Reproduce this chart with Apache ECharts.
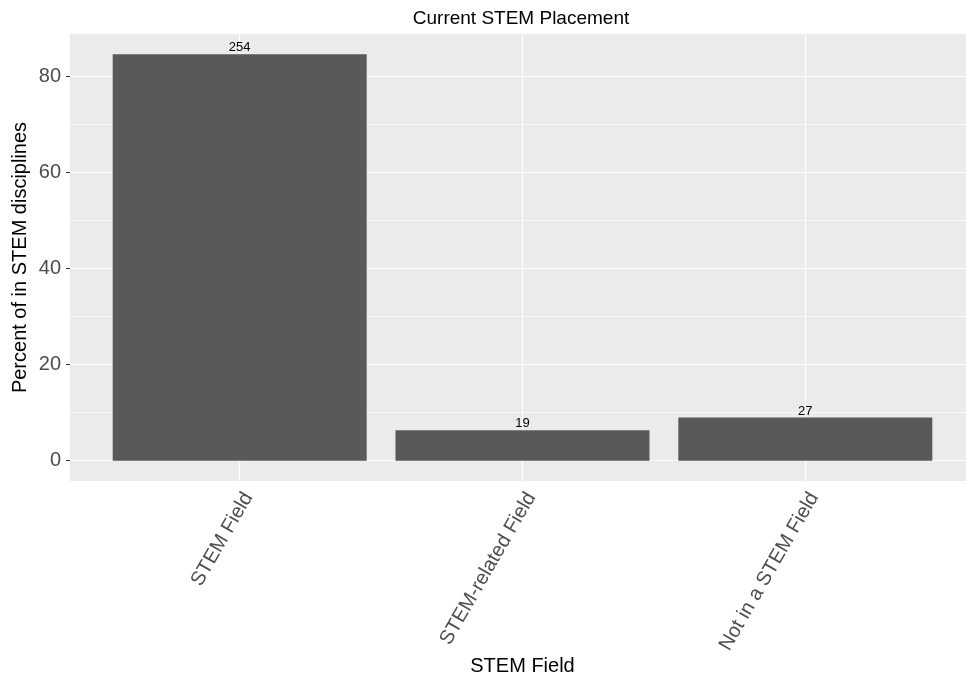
<!DOCTYPE html>
<html>
<head>
<meta charset="utf-8">
<script src="https://cdn.jsdelivr.net/npm/echarts@6/dist/echarts.min.js"></script>
<style>html,body{margin:0;padding:0;background:#fff}#c{width:966px;height:678px}</style>
</head>
<body>
<div id="c"></div>
<script>
const categories = ["STEM Field", "STEM-related Field", "Not in a STEM Field"];
const counts = [254, 19, 27];
const percents = [84.667, 6.333, 9.0];
const yTicks = [0, 20, 40, 60, 80];
const yMinor = [10, 30, 50, 70];
const xPositions = [1, 2, 3];

const font = "Liberation Sans, Arial, sans-serif";
const chart = echarts.init(document.getElementById('c'), null, {renderer: 'canvas'});

const barData = xPositions.map((x, i) => [x, percents[i]]);

chart.setOption({
  animation: false,
  backgroundColor: '#ffffff',
  title: {
    text: 'Current STEM Placement',
    left: 516, top: 4, textAlign: 'center',
    textStyle: {fontFamily: font, fontSize: 19, fontWeight: 'normal', color: '#000'}
  },
  grid: {
    left: 70, top: 34, width: 905, height: 447,
    outerBoundsMode: 'none', containLabel: false,
    show: true, backgroundColor: '#EBEBEB', borderWidth: 0
  },
  xAxis: {
    type: 'value', min: 0.4, max: 3.6,
    name: 'STEM Field', nameLocation: 'middle', nameGap: 175, nameMoveOverlap: false,
    nameTextStyle: {fontFamily: font, fontSize: 20, color: '#000'},
    axisLine: {show: false},
    axisTick: {show: true, length: 4, customValues: xPositions, lineStyle: {color: '#333', width: 1}},
    axisLabel: {
      customValues: xPositions, rotate: 60, margin: 8, verticalAlign: 'top',
      fontFamily: font, fontSize: 20, color: '#4d4d4d',
      formatter: v => categories[Math.round(v) - 1] || ''
    },
    splitLine: {show: false}
  },
  yAxis: {
    type: 'value', min: -4.233, max: 88.9,
    name: 'Percent of in STEM disciplines', nameLocation: 'middle', nameGap: 40, nameMoveOverlap: false,
    nameTextStyle: {fontFamily: font, fontSize: 20, color: '#000'},
    axisLine: {show: false},
    axisTick: {show: true, length: 4, customValues: yTicks, lineStyle: {color: '#333', width: 1}},
    axisLabel: {customValues: yTicks, margin: 9, fontFamily: font, fontSize: 20, color: '#4d4d4d'},
    splitLine: {show: false}
  },
  series: [
    {
      type: 'line', data: [], z: 1, silent: true,
      markLine: {
        z: 1,
        silent: true, symbol: 'none', label: {show: false}, animation: false,
        data: [
          ...yMinor.map(v => ({yAxis: v, lineStyle: {color: '#ffffff', width: 0.6, type: 'solid'}})),
          ...yTicks.map(v => ({yAxis: v, lineStyle: {color: '#ffffff', width: 1.2, type: 'solid'}})),
          ...xPositions.map(v => ({xAxis: v, lineStyle: {color: '#ffffff', width: 1.2, type: 'solid'}}))
        ]
      }
    },
    {
      type: 'bar', data: barData, z: 3, barWidth: 254,
      itemStyle: {color: '#595959'},
      label: {
        show: true, position: 'top', distance: 0,
        fontFamily: font, fontSize: 13, color: '#000',
        formatter: p => String(counts[p.dataIndex])
      }
    }
  ]
});
</script>
</body>
</html>
